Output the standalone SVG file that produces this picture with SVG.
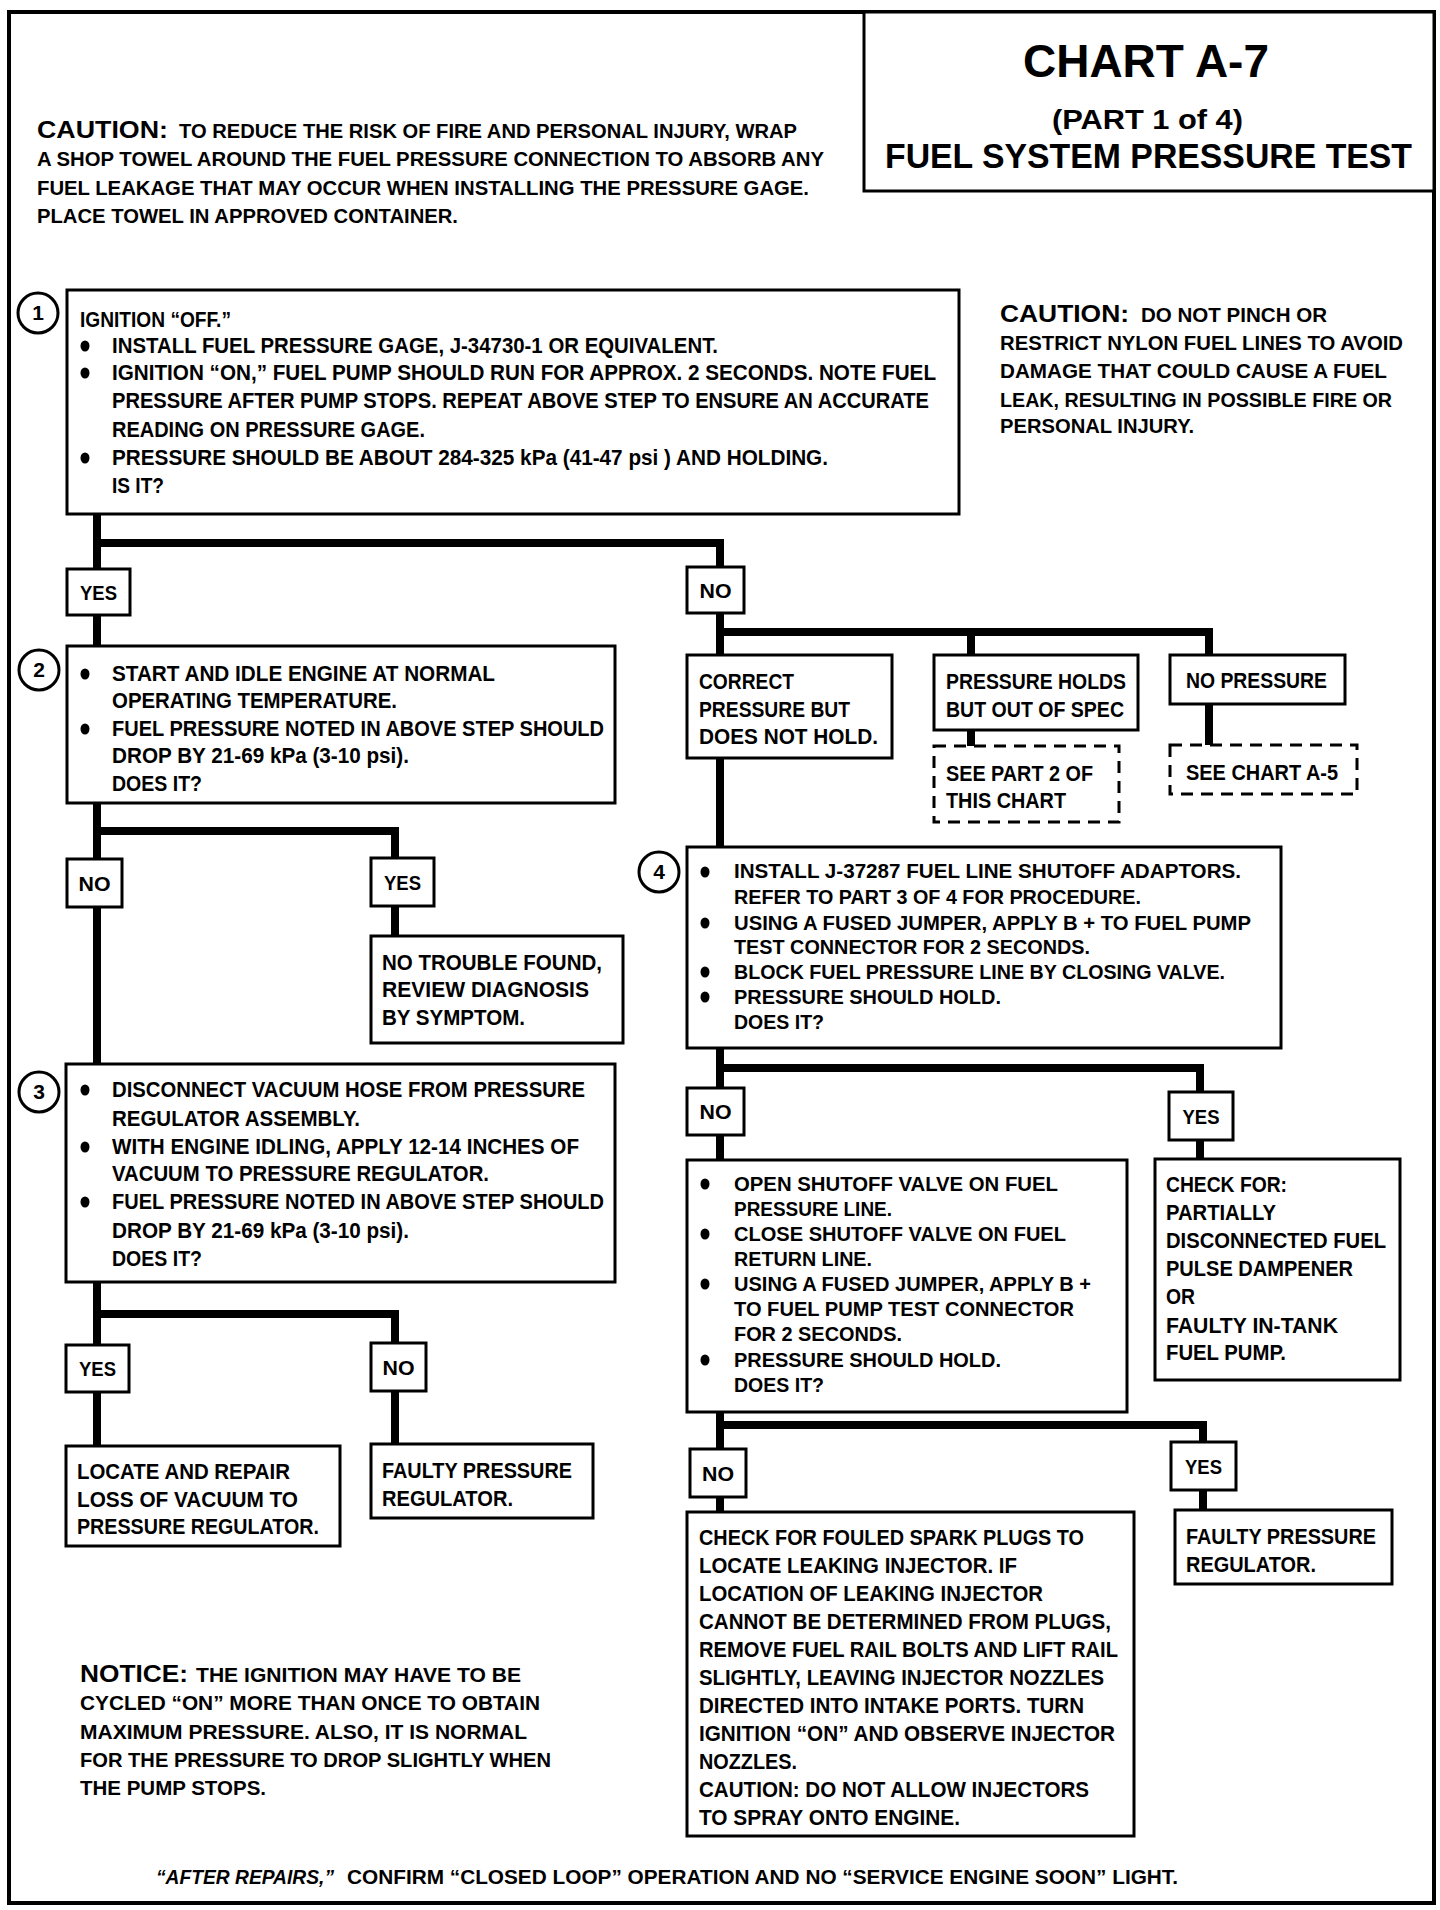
<svg xmlns="http://www.w3.org/2000/svg" width="1440" height="1910" viewBox="0 0 1440 1910">
<style>
.t{font-family:"Liberation Sans Narrow","Liberation Sans",Arial,sans-serif;font-weight:bold;fill:#000;font-size:22px}
.s18{font-size:19.5px}
.s19{font-size:21px}
.lb{font-size:21px}
.box{fill:#fff;stroke:#000;stroke-width:3}
.dash{fill:#fff;stroke:#000;stroke-width:3;stroke-dasharray:12 8}
.conn{fill:none;stroke:#000;stroke-width:8;stroke-linejoin:miter}
.circ{fill:#fff;stroke:#000;stroke-width:3}
.lbl{text-anchor:middle}
</style>
<rect x="0" y="0" width="1440" height="1910" fill="#fff"/>
<rect x="9" y="12" width="1425" height="1891" fill="none" stroke="#000" stroke-width="4"/>

<g id="connectors">
<path class="conn" d="M97 512 V648"/>
<path class="conn" d="M97 543 H720 V657"/>
<path class="conn" d="M720 632 H1209 V657"/>
<path class="conn" d="M971 632 V657"/>
<path class="conn" d="M720 756 V849"/>
<path class="conn" d="M971 728 V748"/>
<path class="conn" d="M1209 702 V747"/>
<path class="conn" d="M97 801 V1066"/>
<path class="conn" d="M97 831 H395 V938"/>
<path class="conn" d="M97 1280 V1448"/>
<path class="conn" d="M97 1314 H395 V1446"/>
<path class="conn" d="M720 1046 V1162"/>
<path class="conn" d="M720 1068 H1200 V1161"/>
<path class="conn" d="M720 1410 V1514"/>
<path class="conn" d="M720 1425 H1203 V1512"/>
</g>

<g id="title">
<rect class="box" x="864" y="12" width="570" height="179"/>
<text class="t" x="1023" y="77" style="font-size:47px" textLength="246" lengthAdjust="spacingAndGlyphs">CHART A-7</text>
<text class="t" x="1052" y="129" style="font-size:27px" textLength="191" lengthAdjust="spacingAndGlyphs">(PART 1 of 4)</text>
<text class="t" x="885" y="168" style="font-size:35px" textLength="527" lengthAdjust="spacingAndGlyphs">FUEL SYSTEM PRESSURE TEST</text>
</g>

<g id="caution-top">
<text class="t" x="37" y="138" style="font-size:24px" textLength="131" lengthAdjust="spacingAndGlyphs">CAUTION:</text>
<text class="t s18" x="179" y="138" textLength="618" lengthAdjust="spacingAndGlyphs">TO REDUCE THE RISK OF FIRE AND PERSONAL INJURY, WRAP</text>
<text class="t s19" x="37" y="166" textLength="787" lengthAdjust="spacingAndGlyphs">A SHOP TOWEL AROUND THE FUEL PRESSURE CONNECTION TO ABSORB ANY</text>
<text class="t s19" x="37" y="195" textLength="772" lengthAdjust="spacingAndGlyphs">FUEL LEAKAGE THAT MAY OCCUR WHEN INSTALLING THE PRESSURE GAGE.</text>
<text class="t s19" x="37" y="223" textLength="421" lengthAdjust="spacingAndGlyphs">PLACE TOWEL IN APPROVED CONTAINER.</text>
</g>

<g id="caution-right">
<text class="t" x="1000" y="322" style="font-size:23px" textLength="129" lengthAdjust="spacingAndGlyphs">CAUTION:</text>
<text class="t s18" x="1141" y="322" textLength="186" lengthAdjust="spacingAndGlyphs">DO NOT PINCH OR</text>
<text class="t s19" x="1000" y="350" textLength="403" lengthAdjust="spacingAndGlyphs">RESTRICT NYLON FUEL LINES TO AVOID</text>
<text class="t s19" x="1000" y="378" textLength="387" lengthAdjust="spacingAndGlyphs">DAMAGE THAT COULD CAUSE A FUEL</text>
<text class="t s19" x="1000" y="407" textLength="392" lengthAdjust="spacingAndGlyphs">LEAK, RESULTING IN POSSIBLE FIRE OR</text>
<text class="t s19" x="1000" y="433" textLength="194" lengthAdjust="spacingAndGlyphs">PERSONAL INJURY.</text>
</g>

<g id="step1">
<rect class="box" x="67" y="290" width="892" height="224"/>
<circle class="circ" cx="38" cy="313" r="20"/>
<text class="t lbl lb" x="38" y="320">1</text>
<text class="t" x="80" y="327" textLength="151" lengthAdjust="spacingAndGlyphs">IGNITION “OFF.”</text>
<ellipse cx="85" cy="346" rx="4.5" ry="5.5"/>
<text class="t" x="112" y="353" textLength="606" lengthAdjust="spacingAndGlyphs">INSTALL FUEL PRESSURE GAGE, J-34730-1 OR EQUIVALENT.</text>
<ellipse cx="85" cy="373" rx="4.5" ry="5.5"/>
<text class="t" x="112" y="380" textLength="824" lengthAdjust="spacingAndGlyphs">IGNITION “ON,” FUEL PUMP SHOULD RUN FOR APPROX. 2 SECONDS.  NOTE FUEL</text>
<text class="t" x="112" y="408" textLength="817" lengthAdjust="spacingAndGlyphs">PRESSURE AFTER PUMP STOPS.  REPEAT ABOVE STEP TO ENSURE AN ACCURATE</text>
<text class="t" x="112" y="437" textLength="313" lengthAdjust="spacingAndGlyphs">READING ON PRESSURE GAGE.</text>
<ellipse cx="85" cy="458" rx="4.5" ry="5.5"/>
<text class="t" x="112" y="465" textLength="716" lengthAdjust="spacingAndGlyphs">PRESSURE SHOULD BE ABOUT 284-325 kPa (41-47 psi ) AND HOLDING.</text>
<text class="t" x="112" y="493" textLength="52" lengthAdjust="spacingAndGlyphs">IS IT?</text>
</g>

<g id="yes1">
<rect class="box" x="67" y="569" width="63" height="46"/>
<text class="t lbl lb" x="98.5" y="600" textLength="37" lengthAdjust="spacingAndGlyphs">YES</text>
</g>

<g id="no1">
<rect class="box" x="687" y="567" width="57" height="46"/>
<text class="t lbl lb" x="715.5" y="598" textLength="32" lengthAdjust="spacingAndGlyphs">NO</text>
</g>

<g id="step2">
<rect class="box" x="67" y="646" width="548" height="157"/>
<circle class="circ" cx="39" cy="670" r="20"/>
<text class="t lbl lb" x="39" y="677">2</text>
<ellipse cx="85" cy="674" rx="4.5" ry="5.5"/>
<text class="t" x="112" y="681" textLength="383" lengthAdjust="spacingAndGlyphs">START AND IDLE ENGINE AT NORMAL</text>
<text class="t" x="112" y="708" textLength="285" lengthAdjust="spacingAndGlyphs">OPERATING TEMPERATURE.</text>
<ellipse cx="85" cy="729" rx="4.5" ry="5.5"/>
<text class="t" x="112" y="736" textLength="492" lengthAdjust="spacingAndGlyphs">FUEL PRESSURE NOTED IN ABOVE STEP SHOULD</text>
<text class="t" x="112" y="763" textLength="297" lengthAdjust="spacingAndGlyphs">DROP BY 21-69 kPa (3-10 psi).</text>
<text class="t" x="112" y="791" textLength="90" lengthAdjust="spacingAndGlyphs">DOES IT?</text>
</g>

<g id="correct">
<rect class="box" x="687" y="655" width="205" height="103"/>
<text class="t" x="699" y="689" textLength="95" lengthAdjust="spacingAndGlyphs">CORRECT</text>
<text class="t" x="699" y="717" textLength="151" lengthAdjust="spacingAndGlyphs">PRESSURE BUT</text>
<text class="t" x="699" y="744" textLength="179" lengthAdjust="spacingAndGlyphs">DOES NOT HOLD.</text>
</g>

<g id="holds">
<rect class="box" x="934" y="655" width="204" height="75"/>
<text class="t" x="946" y="689" textLength="180" lengthAdjust="spacingAndGlyphs">PRESSURE HOLDS</text>
<text class="t" x="946" y="717" textLength="178" lengthAdjust="spacingAndGlyphs">BUT OUT OF SPEC</text>
</g>

<g id="nopressure">
<rect class="box" x="1170" y="655" width="175" height="49"/>
<text class="t" x="1186" y="688" textLength="141" lengthAdjust="spacingAndGlyphs">NO PRESSURE</text>
</g>

<g id="seepart2">
<rect class="dash" x="934" y="746" width="185" height="76"/>
<text class="t" x="946" y="781" textLength="147" lengthAdjust="spacingAndGlyphs">SEE PART 2 OF</text>
<text class="t" x="946" y="808" textLength="120" lengthAdjust="spacingAndGlyphs">THIS CHART</text>
</g>

<g id="seea5">
<rect class="dash" x="1170" y="745" width="187" height="49"/>
<text class="t" x="1186" y="780" textLength="152" lengthAdjust="spacingAndGlyphs">SEE CHART A-5</text>
</g>

<g id="no2">
<rect class="box" x="67" y="859" width="55" height="48"/>
<text class="t lbl lb" x="94.5" y="891" textLength="32" lengthAdjust="spacingAndGlyphs">NO</text>
</g>

<g id="yes2">
<rect class="box" x="371" y="858" width="63" height="48"/>
<text class="t lbl lb" x="402.5" y="890" textLength="37" lengthAdjust="spacingAndGlyphs">YES</text>
</g>

<g id="notrouble">
<rect class="box" x="371" y="936" width="252" height="107"/>
<text class="t" x="382" y="970" textLength="220" lengthAdjust="spacingAndGlyphs">NO TROUBLE FOUND,</text>
<text class="t" x="382" y="997" textLength="207" lengthAdjust="spacingAndGlyphs">REVIEW  DIAGNOSIS</text>
<text class="t" x="382" y="1025" textLength="143" lengthAdjust="spacingAndGlyphs">BY SYMPTOM.</text>
</g>

<g id="step4">
<rect class="box" x="687" y="847" width="594" height="201"/>
<circle class="circ" cx="659" cy="872" r="20"/>
<text class="t lbl lb" x="659" y="879">4</text>
<ellipse cx="705" cy="872" rx="4.5" ry="5.5"/>
<text class="t s19" x="734" y="878" textLength="507" lengthAdjust="spacingAndGlyphs">INSTALL  J-37287  FUEL LINE SHUTOFF ADAPTORS.</text>
<text class="t s19" x="734" y="904" textLength="407" lengthAdjust="spacingAndGlyphs">REFER TO PART 3 OF 4 FOR PROCEDURE.</text>
<ellipse cx="705" cy="923" rx="4.5" ry="5.5"/>
<text class="t s19" x="734" y="930" textLength="517" lengthAdjust="spacingAndGlyphs">USING A FUSED JUMPER, APPLY B +  TO FUEL PUMP</text>
<text class="t s19" x="734" y="954" textLength="356" lengthAdjust="spacingAndGlyphs">TEST CONNECTOR FOR 2 SECONDS.</text>
<ellipse cx="705" cy="972" rx="4.5" ry="5.5"/>
<text class="t s19" x="734" y="979" textLength="491" lengthAdjust="spacingAndGlyphs">BLOCK FUEL PRESSURE LINE BY CLOSING VALVE.</text>
<ellipse cx="705" cy="997" rx="4.5" ry="5.5"/>
<text class="t s19" x="734" y="1004" textLength="267" lengthAdjust="spacingAndGlyphs">PRESSURE SHOULD HOLD.</text>
<text class="t s19" x="734" y="1029" textLength="90" lengthAdjust="spacingAndGlyphs">DOES IT?</text>
</g>

<g id="step3">
<rect class="box" x="66" y="1064" width="549" height="218"/>
<circle class="circ" cx="39" cy="1092" r="20"/>
<text class="t lbl lb" x="39" y="1099">3</text>
<ellipse cx="85" cy="1090" rx="4.5" ry="5.5"/>
<text class="t" x="112" y="1097" textLength="473" lengthAdjust="spacingAndGlyphs">DISCONNECT VACUUM HOSE FROM PRESSURE</text>
<text class="t" x="112" y="1126" textLength="248" lengthAdjust="spacingAndGlyphs">REGULATOR ASSEMBLY.</text>
<ellipse cx="85" cy="1147" rx="4.5" ry="5.5"/>
<text class="t" x="112" y="1154" textLength="467" lengthAdjust="spacingAndGlyphs">WITH ENGINE IDLING, APPLY 12-14 INCHES OF</text>
<text class="t" x="112" y="1181" textLength="377" lengthAdjust="spacingAndGlyphs">VACUUM TO PRESSURE REGULATOR.</text>
<ellipse cx="85" cy="1202" rx="4.5" ry="5.5"/>
<text class="t" x="112" y="1209" textLength="492" lengthAdjust="spacingAndGlyphs">FUEL PRESSURE NOTED IN ABOVE STEP SHOULD</text>
<text class="t" x="112" y="1238" textLength="297" lengthAdjust="spacingAndGlyphs">DROP BY 21-69 kPa (3-10 psi).</text>
<text class="t" x="112" y="1266" textLength="90" lengthAdjust="spacingAndGlyphs">DOES IT?</text>
</g>

<g id="no4">
<rect class="box" x="687" y="1088" width="57" height="47"/>
<text class="t lbl lb" x="715.5" y="1119" textLength="32" lengthAdjust="spacingAndGlyphs">NO</text>
</g>

<g id="yes4">
<rect class="box" x="1169" y="1092" width="64" height="48"/>
<text class="t lbl lb" x="1201" y="1124" textLength="37" lengthAdjust="spacingAndGlyphs">YES</text>
</g>

<g id="step5">
<rect class="box" x="687" y="1160" width="440" height="252"/>
<ellipse cx="705" cy="1184" rx="4.5" ry="5.5"/>
<text class="t s19" x="734" y="1191" textLength="324" lengthAdjust="spacingAndGlyphs">OPEN SHUTOFF VALVE ON FUEL</text>
<text class="t s19" x="734" y="1216" textLength="158" lengthAdjust="spacingAndGlyphs">PRESSURE LINE.</text>
<ellipse cx="705" cy="1234" rx="4.5" ry="5.5"/>
<text class="t s19" x="734" y="1241" textLength="332" lengthAdjust="spacingAndGlyphs">CLOSE SHUTOFF VALVE ON FUEL</text>
<text class="t s19" x="734" y="1266" textLength="138" lengthAdjust="spacingAndGlyphs">RETURN LINE.</text>
<ellipse cx="705" cy="1284" rx="4.5" ry="5.5"/>
<text class="t s19" x="734" y="1291" textLength="357" lengthAdjust="spacingAndGlyphs">USING A FUSED JUMPER, APPLY B +</text>
<text class="t s19" x="734" y="1316" textLength="340" lengthAdjust="spacingAndGlyphs">TO FUEL PUMP TEST CONNECTOR</text>
<text class="t s19" x="734" y="1341" textLength="168" lengthAdjust="spacingAndGlyphs">FOR 2 SECONDS.</text>
<ellipse cx="705" cy="1360" rx="4.5" ry="5.5"/>
<text class="t s19" x="734" y="1367" textLength="267" lengthAdjust="spacingAndGlyphs">PRESSURE SHOULD HOLD.</text>
<text class="t s19" x="734" y="1392" textLength="90" lengthAdjust="spacingAndGlyphs">DOES IT?</text>
</g>

<g id="checkfor">
<rect class="box" x="1155" y="1159" width="245" height="221"/>
<text class="t" x="1166" y="1192" textLength="121" lengthAdjust="spacingAndGlyphs">CHECK FOR:</text>
<text class="t" x="1166" y="1220" textLength="110" lengthAdjust="spacingAndGlyphs">PARTIALLY</text>
<text class="t" x="1166" y="1248" textLength="220" lengthAdjust="spacingAndGlyphs">DISCONNECTED FUEL</text>
<text class="t" x="1166" y="1276" textLength="187" lengthAdjust="spacingAndGlyphs">PULSE DAMPENER</text>
<text class="t" x="1166" y="1304" textLength="29" lengthAdjust="spacingAndGlyphs">OR</text>
<text class="t" x="1166" y="1333" textLength="172" lengthAdjust="spacingAndGlyphs">FAULTY IN-TANK</text>
<text class="t" x="1166" y="1360" textLength="120" lengthAdjust="spacingAndGlyphs">FUEL PUMP.</text>
</g>

<g id="yes3">
<rect class="box" x="66" y="1345" width="63" height="47"/>
<text class="t lbl lb" x="97.5" y="1376" textLength="37" lengthAdjust="spacingAndGlyphs">YES</text>
</g>

<g id="no3">
<rect class="box" x="371" y="1343" width="55" height="48"/>
<text class="t lbl lb" x="398.5" y="1375" textLength="32" lengthAdjust="spacingAndGlyphs">NO</text>
</g>

<g id="locate">
<rect class="box" x="66" y="1446" width="274" height="100"/>
<text class="t" x="77" y="1479" textLength="213" lengthAdjust="spacingAndGlyphs">LOCATE AND REPAIR</text>
<text class="t" x="77" y="1507" textLength="221" lengthAdjust="spacingAndGlyphs">LOSS OF VACUUM TO</text>
<text class="t" x="77" y="1534" textLength="242" lengthAdjust="spacingAndGlyphs">PRESSURE REGULATOR.</text>
</g>

<g id="faulty-left">
<rect class="box" x="371" y="1444" width="222" height="74"/>
<text class="t" x="382" y="1478" textLength="190" lengthAdjust="spacingAndGlyphs">FAULTY PRESSURE</text>
<text class="t" x="382" y="1506" textLength="131" lengthAdjust="spacingAndGlyphs">REGULATOR.</text>
</g>

<g id="no5">
<rect class="box" x="690" y="1449" width="56" height="48"/>
<text class="t lbl lb" x="718" y="1481" textLength="32" lengthAdjust="spacingAndGlyphs">NO</text>
</g>

<g id="yes5">
<rect class="box" x="1171" y="1442" width="65" height="48"/>
<text class="t lbl lb" x="1203.5" y="1474" textLength="37" lengthAdjust="spacingAndGlyphs">YES</text>
</g>

<g id="checkplugs">
<rect class="box" x="687" y="1512" width="447" height="324"/>
<text class="t" x="699" y="1545" textLength="385" lengthAdjust="spacingAndGlyphs">CHECK FOR FOULED SPARK PLUGS TO</text>
<text class="t" x="699" y="1573" textLength="318" lengthAdjust="spacingAndGlyphs">LOCATE LEAKING INJECTOR.  IF</text>
<text class="t" x="699" y="1601" textLength="344" lengthAdjust="spacingAndGlyphs">LOCATION OF LEAKING INJECTOR</text>
<text class="t" x="699" y="1629" textLength="412" lengthAdjust="spacingAndGlyphs">CANNOT BE DETERMINED FROM PLUGS,</text>
<text class="t" x="699" y="1657" textLength="419" lengthAdjust="spacingAndGlyphs">REMOVE FUEL RAIL BOLTS AND LIFT RAIL</text>
<text class="t" x="699" y="1685" textLength="405" lengthAdjust="spacingAndGlyphs">SLIGHTLY, LEAVING INJECTOR NOZZLES</text>
<text class="t" x="699" y="1713" textLength="385" lengthAdjust="spacingAndGlyphs">DIRECTED INTO INTAKE PORTS.  TURN</text>
<text class="t" x="699" y="1741" textLength="416" lengthAdjust="spacingAndGlyphs">IGNITION “ON” AND OBSERVE INJECTOR</text>
<text class="t" x="699" y="1769" textLength="98" lengthAdjust="spacingAndGlyphs">NOZZLES.</text>
<text class="t" x="699" y="1797" textLength="390" lengthAdjust="spacingAndGlyphs">CAUTION: DO NOT ALLOW INJECTORS</text>
<text class="t" x="699" y="1825" textLength="261" lengthAdjust="spacingAndGlyphs">TO SPRAY ONTO ENGINE.</text>
</g>

<g id="faulty-right">
<rect class="box" x="1175" y="1510" width="217" height="74"/>
<text class="t" x="1186" y="1544" textLength="190" lengthAdjust="spacingAndGlyphs">FAULTY PRESSURE</text>
<text class="t" x="1186" y="1572" textLength="130" lengthAdjust="spacingAndGlyphs">REGULATOR.</text>
</g>

<g id="notice">
<text class="t" x="80" y="1682" style="font-size:24px" textLength="108" lengthAdjust="spacingAndGlyphs">NOTICE:</text>
<text class="t s18" x="196" y="1682" textLength="325" lengthAdjust="spacingAndGlyphs">THE IGNITION MAY HAVE TO BE</text>
<text class="t s19" x="80" y="1710" textLength="460" lengthAdjust="spacingAndGlyphs">CYCLED “ON” MORE THAN ONCE TO OBTAIN</text>
<text class="t s19" x="80" y="1739" textLength="447" lengthAdjust="spacingAndGlyphs">MAXIMUM PRESSURE.  ALSO, IT IS NORMAL</text>
<text class="t s19" x="80" y="1767" textLength="471" lengthAdjust="spacingAndGlyphs">FOR THE PRESSURE TO DROP SLIGHTLY WHEN</text>
<text class="t s19" x="80" y="1795" textLength="186" lengthAdjust="spacingAndGlyphs">THE PUMP STOPS.</text>
</g>

<g id="footer">
<text class="t s19" x="156" y="1884" font-style="italic" textLength="178" lengthAdjust="spacingAndGlyphs">“AFTER REPAIRS,”</text>
<text class="t s19" x="347" y="1884" textLength="831" lengthAdjust="spacingAndGlyphs">CONFIRM “CLOSED LOOP” OPERATION AND NO “SERVICE ENGINE SOON” LIGHT.</text>
</g>
</svg>
